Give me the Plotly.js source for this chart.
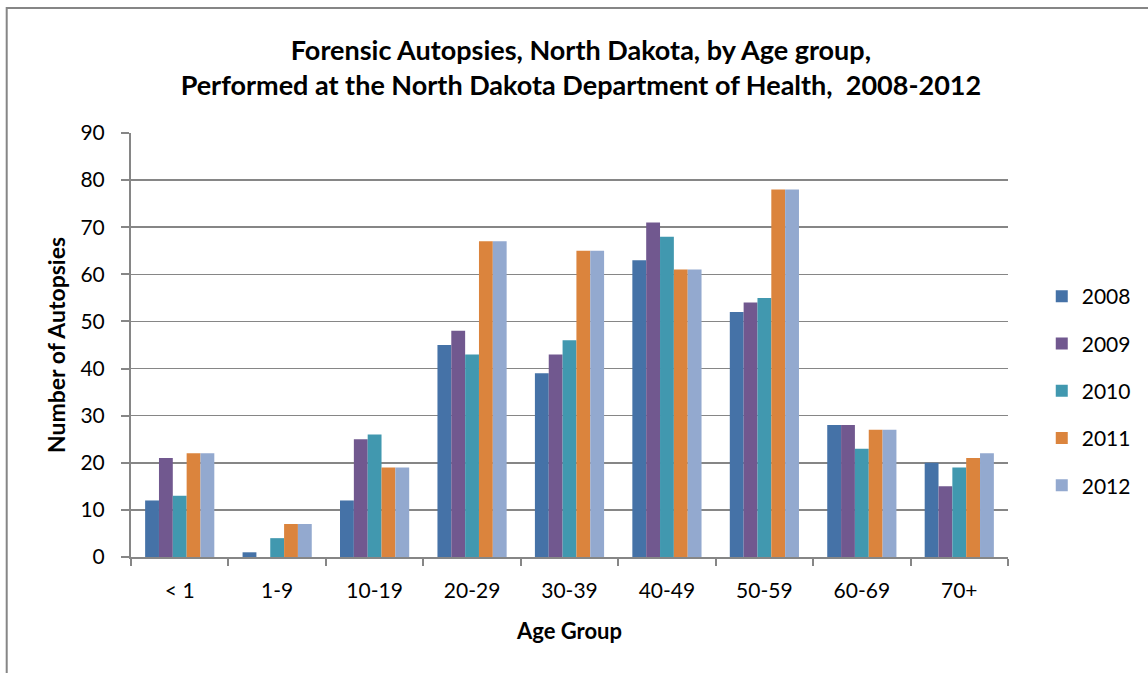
<!DOCTYPE html>
<html>
<head>
<meta charset="utf-8">
<script src="https://cdn.plot.ly/plotly-3.0.1.min.js"></script>
<style>
html,body{margin:0;padding:0;background:#fff;}
#chart{width:1148px;height:673px;}
</style>
</head>
<body>
<div id="chart"></div>
<script>
const categories = ["< 1","1-9","10-19","20-29","30-39","40-49","50-59","60-69","70+"];
const seriesNames = ["2008","2009","2010","2011","2012"];
const v2008 = [12, 1, 12, 45, 39, 63, 52, 28, 20];
const v2009 = [21, 0, 25, 48, 43, 71, 54, 28, 15];
const v2010 = [13, 4, 26, 43, 46, 68, 55, 23, 19];
const v2011 = [22, 7, 19, 67, 65, 61, 78, 27, 21];
const v2012 = [22, 7, 19, 67, 65, 61, 78, 27, 22];
const colors = ["#4572A7","#71588F","#4198AF","#DB843D","#93A9CF"];
const allValues = [v2008, v2009, v2010, v2011, v2012];

const FONT = "Lato, 'Open Sans', sans-serif";

const traces = allValues.map((vals, i) => ({
  type: "bar",
  name: seriesNames[i],
  x: categories,
  y: vals,
  legendgroup: "g" + i,
  marker: {color: colors[i], line: {width: 0}}
}));

const layout = {
  width: 1148, height: 673,
  paper_bgcolor: "#fff", plot_bgcolor: "#fff",
  margin: {l: 131, r: 135, t: 133, b: 116, pad: 0},
  font: {family: FONT, color: "#000", size: 21},
  barmode: "group",
  bargap: 0.29,
  bargroupgap: 0,
  title: {
    text: "<b>Forensic Autopsies, North Dakota, by Age group,<br>Performed at the North Dakota Department of Health,  2008-2012</b>",
    font: {family: FONT, size: 27, color: "#000"},
    x: 0.506, xanchor: "center", y: 0.911, yanchor: "middle"
  },
  xaxis: {
    type: "category",
    showline: true, linecolor: "#868686", linewidth: 2,
    ticks: "outside", tickson: "boundaries", ticklen: 7, tickcolor: "#868686", tickwidth: 2,
    tickfont: {family: FONT, size: 21, color: "#000"},
    ticklabelstandoff: 14,
    showgrid: false,
    title: {text: "<b>Age Group</b>", font: {family: FONT, size: 22, color: "#000"}, standoff: 22}
  },
  yaxis: {
    range: [0, 90], dtick: 10,
    showline: true, linecolor: "#868686", linewidth: 2,
    ticks: "outside", ticklen: 8, tickcolor: "#868686", tickwidth: 2,
    tickfont: {family: FONT, size: 21, color: "#000"},
    ticklabelstandoff: 12,
    showgrid: true, gridcolor: "#868686", gridwidth: 1.5,
    zeroline: false,
    title: {text: "<b>Number of Autopsies</b>", font: {family: FONT, size: 23, color: "#000"}, standoff: 8}
  },
  legend: {
    x: 1.0385, xanchor: "left", y: 0.3915, yanchor: "middle",
    font: {family: FONT, size: 21, color: "#000"},
    traceorder: "grouped", tracegroupgap: 17,
    itemwidth: 30, bgcolor: "rgba(0,0,0,0)"
  },
  shapes: [{
    type: "rect", xref: "paper", yref: "paper",
    x0: (6 - 131) / 882, x1: 1.3, y0: -0.5, y1: (557 - 8) / 424,
    line: {color: "#868686", width: 2}, fillcolor: "rgba(0,0,0,0)", layer: "below"
  }]
};

Plotly.newPlot("chart", traces, layout, {displayModeBar: false, staticPlot: true});
</script>
</body>
</html>
